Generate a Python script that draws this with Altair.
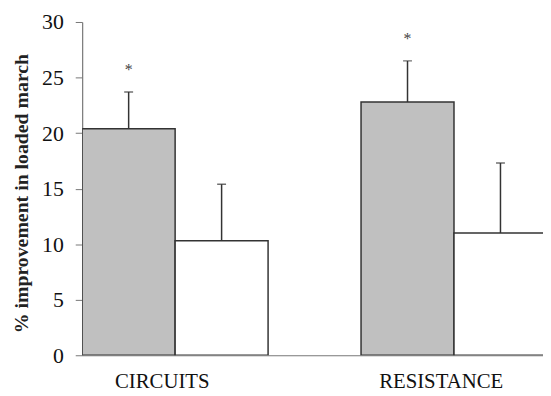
import altair as alt
import pandas as pd

groups = ["CIRCUITS", "CIRCUITS", "RESISTANCE", "RESISTANCE"]
conditions = ["shaded", "open", "shaded", "open"]
means = [20.4, 10.3, 22.8, 11.0]
errors = [3.3, 5.1, 3.7, 6.3]
stars = ["*", "", "*", ""]
y_ticks = [0, 5, 10, 15, 20, 25, 30]

df = pd.DataFrame({
    "group": groups,
    "condition": conditions,
    "mean": means,
    "err": errors,
    "star": stars,
})
df["hi"] = df["mean"] + df["err"]

FONT = "Liberation Serif"
DARK = "#333333"

x = alt.X(
    "group:N",
    sort=["CIRCUITS", "RESISTANCE"],
    scale=alt.Scale(paddingInner=0.3475, paddingOuter=0),
    axis=alt.Axis(
        title=None, labelAngle=0, ticks=False, labelFont=FONT, labelFontSize=21,
        labelPadding=16, labelOffset=-11, labelColor="#111111",
        domainColor="#777777", domainWidth=1.2,
    ),
)
xo = alt.XOffset(
    "condition:N",
    scale=alt.Scale(domain=["shaded", "open"], range=[0, 188], paddingInner=0, paddingOuter=0),
)
y = alt.Y(
    "mean:Q",
    scale=alt.Scale(domain=[0, 30]),
    axis=alt.Axis(
        values=y_ticks, grid=False, title="% improvement in loaded march",
        titleFont=FONT, titleFontSize=20, titleFontWeight="bold", titleColor="#222222",
        titlePadding=10, titleY=173, labelFont=FONT, labelFontSize=22, labelColor="#111111",
        labelPadding=12, tickSize=7, tickColor="#777777", domainColor="#777777",
        domainWidth=1.2,
    ),
)

bars = alt.Chart(df).mark_bar(stroke=DARK, strokeWidth=1.5, clip=True).encode(
    x=x,
    xOffset=xo,
    y=y,
    color=alt.Color(
        "condition:N",
        scale=alt.Scale(domain=["shaded", "open"], range=["#c0c0c0", "#ffffff"]),
        legend=None,
    ),
)

rules = alt.Chart(df).mark_rule(color=DARK, strokeWidth=1.5, clip=True).encode(
    x=x, xOffset=xo, y="mean:Q", y2="hi:Q"
)

caps = alt.Chart(df).mark_tick(
    color=DARK, thickness=1.5, size=9, orient="horizontal", clip=True
).encode(x=x, xOffset=xo, y="hi:Q")

asterisks = alt.Chart(df).mark_text(
    font=FONT, fontSize=16, color="#444444", baseline="middle", dy=-22
).encode(x=x, xOffset=xo, y="hi:Q", text="star:N")

chart = (
    alt.layer(bars, rules, caps, asterisks)
    .properties(
        width=466,
        height=337,
        autosize=alt.AutoSizeParams(type="none"),
        padding={"left": 75, "top": 12, "right": 0, "bottom": 36},
    )
    .configure_view(stroke=None)
)

chart.save("out.html", embed_options={"renderer": "svg", "actions": False})
